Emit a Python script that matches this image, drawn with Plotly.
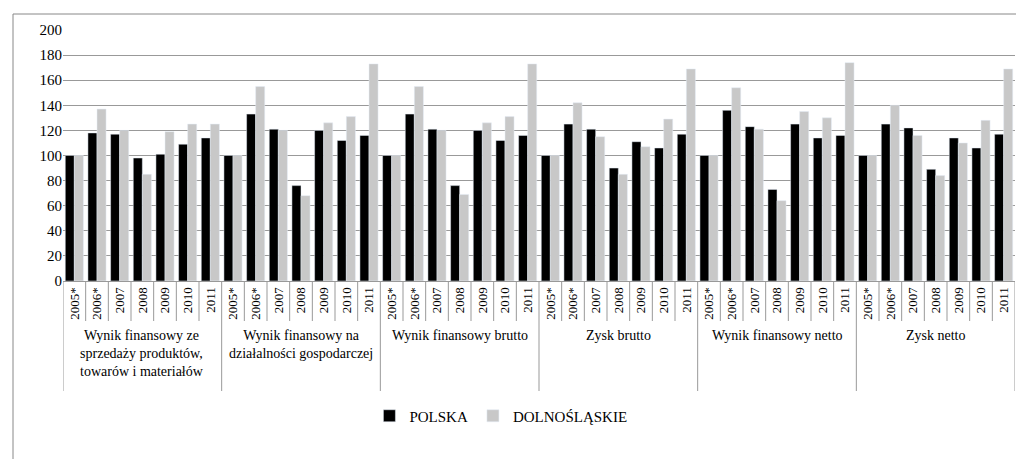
import plotly.graph_objects as go

years = ["2005*", "2006*", "2007", "2008", "2009", "2010", "2011"]
groups = ["Wynik finansowy ze<br>sprzedaży produktów,<br>towarów i materiałów",
          "Wynik finansowy na<br>działalności gospodarczej",
          "Wynik finansowy brutto", "Zysk brutto",
          "Wynik finansowy netto", "Zysk netto"]
polska = [100, 118, 117, 98, 101, 109, 114,
          100, 133, 121, 76, 120, 112, 116,
          100, 133, 121, 76, 120, 112, 116,
          100, 125, 121, 90, 111, 106, 117,
          100, 136, 123, 73, 125, 114, 116,
          100, 125, 122, 89, 114, 106, 117]
dolnoslaskie = [100, 137, 120, 85, 119, 125, 125,
                100, 155, 120, 68, 126, 131, 173,
                100, 155, 120, 69, 126, 131, 173,
                100, 142, 115, 85, 107, 129, 169,
                100, 154, 121, 64, 135, 130, 174,
                100, 140, 116, 84, 110, 128, 169]

n = len(years) * len(groups)
x = list(range(n))
ticktext = years * len(groups)
FONT = "Liberation Serif, Times New Roman, DejaVu Serif, serif"

fig = go.Figure()
fig.add_bar(x=x, y=polska, name="POLSKA", marker_color="black")
fig.add_bar(x=x, y=dolnoslaskie, name="DOLNOŚLĄSKIE", marker_color="#c8c8c8")

PH = 251.0
PW = 952.0
shapes = []
for i in range(n + 1):
    big = (i % 7 == 0)
    shapes.append(dict(type="line", xref="x", yref="paper", x0=i - 0.5, x1=i - 0.5,
                       y0=0, y1=(-110 if big else -40) / PH,
                       line=dict(color="#999", width=1)))
annotations = []
for g, lab in enumerate(groups):
    annotations.append(dict(x=g * 7 + 3, xref="x", y=-45 / PH, yref="paper", text=lab,
                            showarrow=False, yanchor="top", align="center",
                            font=dict(family=FONT, size=14, color="black")))

fig.update_layout(
    width=1024, height=459, barmode="group", bargap=0.2, bargroupgap=0,
    margin=dict(l=55, r=17, t=22, b=186, autoexpand=False),
    plot_bgcolor="white", paper_bgcolor="white",
    font=dict(family=FONT, size=14, color="black"),
    xaxis=dict(tickvals=x, ticktext=ticktext, tickangle=-90, range=[-0.5, n - 0.5],
               showgrid=False, linecolor="#999", ticks="", tickfont=dict(size=13),
               automargin=False),
    yaxis=dict(range=[0, 200], dtick=20, gridcolor="#999", showline=False,
               zeroline=False, ticks="", tickfont=dict(size=15), automargin=False),
    legend=dict(orientation="h", x=0.46, xanchor="center", y=-135 / PH, yanchor="middle",
                font=dict(size=15), itemwidth=30),
    shapes=shapes + [dict(type="rect", xref="paper", yref="paper",
                          x0=-50 / PW, x1=959 / PW,
                          y0=-(453 - 273) / PH, y1=(273 - 6) / PH,
                          line=dict(color="#888", width=1))],
    annotations=annotations,
)
fig.write_html("out.html")
